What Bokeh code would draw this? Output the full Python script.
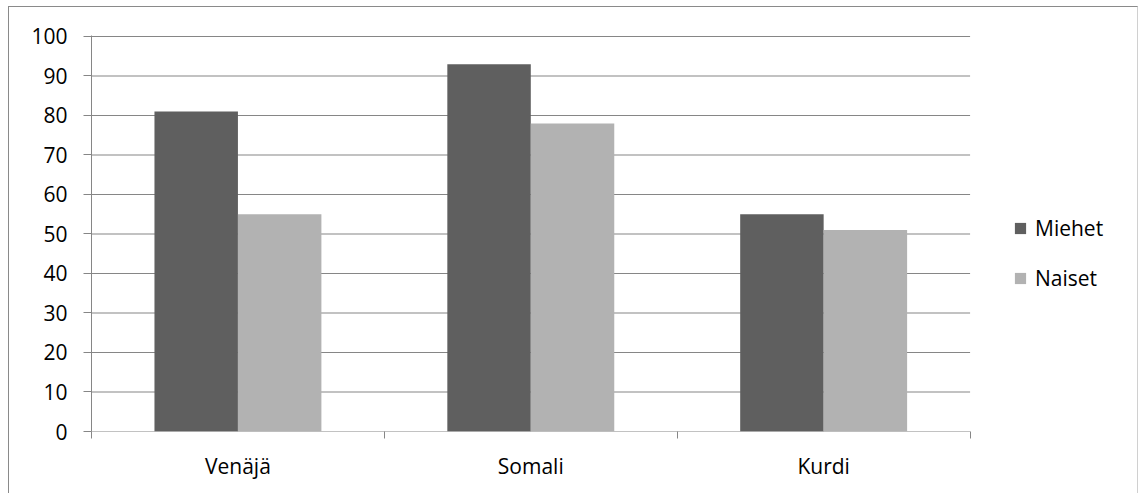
from bokeh.plotting import figure
from bokeh.models import FixedTicker, Legend, LegendItem, ColumnDataSource
from bokeh.transform import dodge
from bokeh.embed import file_html
from bokeh.resources import INLINE

categories = ["Venäjä", "Somali", "Kurdi"]
miehet = [81, 93, 55]
naiset = [55, 78, 51]
y_ticks = [0, 10, 20, 30, 40, 50, 60, 70, 80, 90, 100]

n = len(categories)
xpos = [i + 0.5 for i in range(n)]
src = ColumnDataSource(dict(x=xpos, miehet=miehet, naiset=naiset))

FONT = "Open Sans"
GRID = "#868686"

# frame spans the whole width so the legend (inside the frame) is not clipped;
# categories occupy the first 879 px of the ~1042 px wide frame
x_end = n * 1042.5 / 879

p = figure(width=1130, height=500, output_backend="svg", toolbar_location=None,
           x_range=(0, x_end), y_range=(0, 100.25),
           min_border_left=82, min_border_right=6, min_border_top=28, min_border_bottom=76)
p.margin = (6, 0, 0, 8)
p.styles = {"border": "1px solid #8a8a8a", "border-right-color": "#d0d0d0"}
p.outline_line_color = None
p.background_fill_color = "white"
p.border_fill_color = "white"

# horizontal gridlines only across the category area
p.segment(x0=[0] * len(y_ticks), x1=[n] * len(y_ticks), y0=y_ticks, y1=y_ticks,
          line_color=GRID, line_width=1.2)

bw = 0.285
r1 = p.vbar(x=dodge("x", -bw / 2, range=p.x_range), top="miehet", width=bw, source=src,
            fill_color="#5f5f5f", line_color=None)
r2 = p.vbar(x=dodge("x", bw / 2, range=p.x_range), top="naiset", width=bw, source=src,
            fill_color="#b2b2b2", line_color=None)

# axes
p.xaxis.ticker = FixedTicker(ticks=xpos, minor_ticks=list(range(n + 1)))
p.xaxis.major_label_overrides = {x: c for x, c in zip(xpos, categories)}
p.xaxis.major_tick_out = 0
p.xaxis.major_tick_in = 0
p.xaxis.minor_tick_out = 7
p.xaxis.minor_tick_in = 0
p.xaxis.minor_tick_line_color = GRID
p.xaxis.axis_line_color = None
p.xaxis.major_label_standoff = 13
p.xaxis.major_label_text_font = FONT
p.xaxis.major_label_text_font_size = "21px"
p.xaxis.major_label_text_color = "#000000"

p.yaxis.ticker = FixedTicker(ticks=y_ticks)
p.yaxis.major_tick_out = 8
p.yaxis.major_tick_in = 0
p.yaxis.minor_tick_line_color = None
p.yaxis.major_tick_line_color = GRID
p.yaxis.axis_line_color = GRID
p.yaxis.major_label_standoff = 16
p.yaxis.major_label_text_font = FONT
p.yaxis.major_label_text_font_size = "21px"
p.yaxis.major_label_text_color = "#000000"

p.xgrid.grid_line_color = None
p.ygrid.grid_line_color = None

legend = Legend(items=[LegendItem(label="Miehet", renderers=[r1]),
                       LegendItem(label="Naiset", renderers=[r2])],
                location=(922, 139), padding=0, margin=0, spacing=22,
                glyph_width=14, glyph_height=14, label_height=14, label_standoff=8,
                border_line_color=None, background_fill_alpha=0,
                label_text_font=FONT, label_text_font_size="21px", label_text_color="#000000")
p.add_layout(legend)

open("out.html", "w").write(file_html(p, INLINE))
